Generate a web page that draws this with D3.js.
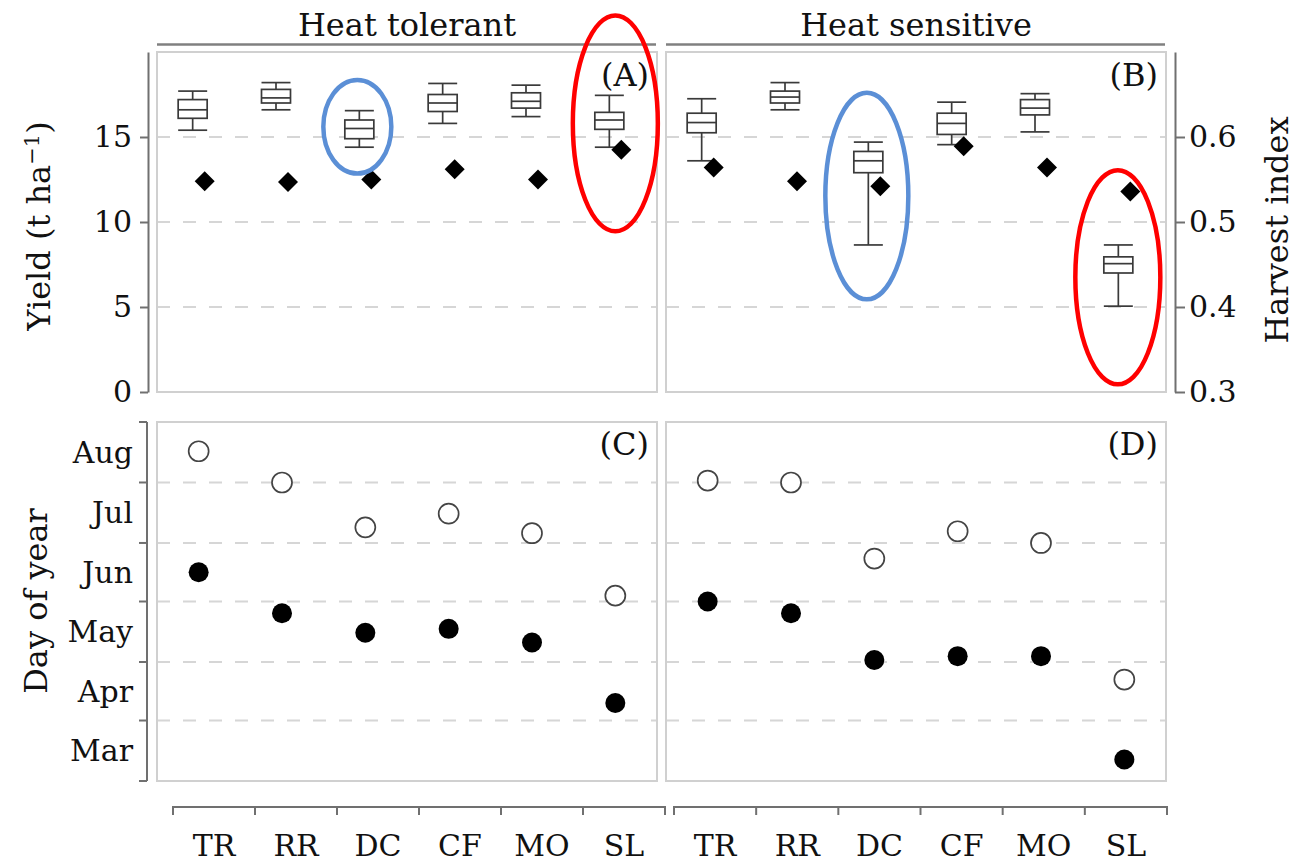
<!DOCTYPE html>
<html>
<head>
<meta charset="utf-8">
<script src="https://cdn.jsdelivr.net/npm/d3@7"></script>
<style>
  html, body { margin: 0; padding: 0; background: #fff; }
  svg text { font-family: "DejaVu Serif", serif; fill: #111; }
</style>
</head>
<body>
<script>
// ---------------- data ----------------
const cultivars = ["TR", "RR", "DC", "CF", "MO", "SL"];
const groupNames = ["Heat tolerant", "Heat sensitive"];
const panelTags = ["(A)", "(B)", "(C)", "(D)"];

// yield box stats [whiskerLow, Q1, median, Q3, whiskerHigh] (t/ha)
const yieldTolerant = [
  [15.4, 16.1, 16.6, 17.2, 17.7],
  [16.6, 17.0, 17.3, 17.8, 18.2],
  [14.4, 14.9, 15.5, 16.0, 16.55],
  [15.8, 16.5, 17.0, 17.5, 18.15],
  [16.2, 16.7, 17.1, 17.6, 18.05],
  [14.4, 15.45, 16.0, 16.45, 17.45]
];
const yieldSensitive = [
  [13.6, 15.25, 15.85, 16.4, 17.25],
  [16.6, 17.0, 17.35, 17.7, 18.2],
  [8.65, 12.9, 13.6, 14.15, 14.7],
  [14.55, 15.15, 15.8, 16.4, 17.05],
  [15.3, 16.3, 16.7, 17.2, 17.55],
  [5.05, 7.0, 7.55, 7.95, 8.65]
];
// harvest index (diamonds)
const hiTolerant = [0.548, 0.547, 0.550, 0.562, 0.550, 0.585];
const hiSensitive = [0.564, 0.548, 0.542, 0.589, 0.564, 0.536];

// day of year: filled = flowering, open = maturity
const flowerTolerant = [167, 146, 136, 138, 131, 100];
const matureTolerant = [229, 213, 190, 197, 187, 155];
const flowerSensitive = [152, 146, 122, 124, 124, 71];
const matureSensitive = [214, 213, 174, 188, 182, 112];

// axes
const yieldTicks = [0, 5, 10, 15];
const yieldGrid = [5, 10, 15];
const hiTicks = [0.3, 0.4, 0.5, 0.6];
const monthNames = ["Mar", "Apr", "May", "Jun", "Jul", "Aug"];
const monthStarts = [60, 91, 121, 152, 182, 213, 244];

// highlight ellipses
const highlightGroup = [0, 0, 1, 1];
const highlightCultivar = ["DC", "SL", "DC", "SL"];
const highlightLow = [12.85, 9.45, 5.45, 0.45];
const highlightHigh = [18.35, 22.15, 17.6, 13.05];
const highlightColour = ["#5b8fd6", "#ff0000", "#5b8fd6", "#ff0000"];

// ---------------- drawing ----------------
const W = 1295, H = 863;
const svg = d3.select("body").append("svg")
  .attr("width", W).attr("height", H)
  .style("display", "block");
svg.append("rect").attr("width", W).attr("height", H).attr("fill", "#fff");

const colX = [[157, 657], [666, 1166]];
const xScales = colX.map(r => d3.scaleBand().domain(cultivars).range(r));
const cx = (g, c) => xScales[g](c) + xScales[g].bandwidth() / 2;

const yYield = d3.scaleLinear().domain([0, 20]).range([392, 52]);
const yHI = d3.scaleLinear().domain([0.3, 0.7]).range([392, 52]);
const yDay = d3.scaleLinear().domain([60, 244]).range([781, 422]);

const gridCol = "#d6d6d6", frameCol = "#d0d0d0", axisCol = "#707070", boxCol = "#3a3a3a";

function panel(g, yTop, yBot, gridYs) {
  const [x0, x1] = colX[g];
  const layer = svg.append("g");
  layer.selectAll("line.grid").data(gridYs).join("line")
    .attr("x1", x0).attr("x2", x1)
    .attr("y1", d => d).attr("y2", d => d)
    .attr("stroke", gridCol).attr("stroke-width", 2)
    .attr("stroke-dasharray", "13,13");
  layer.append("rect")
    .attr("x", x0).attr("y", yTop).attr("width", x1 - x0).attr("height", yBot - yTop)
    .attr("fill", "none").attr("stroke", frameCol).attr("stroke-width", 2);
}
[0, 1].forEach(g => {
  panel(g, 52, 392, yieldGrid.map(v => yYield(v)));
  panel(g, 422, 781, monthStarts.slice(1, -1).map(v => yDay(v)));
});

// strip headers
[0, 1].forEach(g => {
  const [x0, x1] = colX[g];
  svg.append("line").attr("x1", x0).attr("x2", x1 - 1).attr("y1", 44.5).attr("y2", 44.5)
    .attr("stroke", "#808080").attr("stroke-width", 2.5);
  svg.append("text").attr("x", (x0 + x1) / 2).attr("y", 36)
    .attr("text-anchor", "middle").attr("font-size", 32).text(groupNames[g]);
});

// panel tags
[[0, 86], [1, 86], [0, 455], [1, 455]].forEach(([g, y], i) => {
  svg.append("text").attr("x", colX[g][1] - 8).attr("y", y)
    .attr("text-anchor", "end").attr("font-size", 32).text(panelTags[i]);
});

// box plots
const boxW = 29, boxOff = -6, diaOff = 6;
[yieldTolerant, yieldSensitive].forEach((stats, g) => {
  const layer = svg.append("g").attr("stroke", boxCol).attr("stroke-width", 1.7).attr("fill", "none");
  stats.forEach((s, i) => {
    const x = cx(g, cultivars[i]) + boxOff;
    const [lo, q1, md, q3, hi] = s;
    layer.append("line").attr("x1", x).attr("x2", x).attr("y1", yYield(hi)).attr("y2", yYield(q3));
    layer.append("line").attr("x1", x).attr("x2", x).attr("y1", yYield(q1)).attr("y2", yYield(lo));
    layer.append("line").attr("x1", x - boxW / 2).attr("x2", x + boxW / 2).attr("y1", yYield(hi)).attr("y2", yYield(hi));
    layer.append("line").attr("x1", x - boxW / 2).attr("x2", x + boxW / 2).attr("y1", yYield(lo)).attr("y2", yYield(lo));
    layer.append("rect").attr("x", x - boxW / 2).attr("y", yYield(q3))
      .attr("width", boxW).attr("height", yYield(q1) - yYield(q3)).attr("fill", "#fff");
    layer.append("line").attr("x1", x - boxW / 2).attr("x2", x + boxW / 2).attr("y1", yYield(md)).attr("y2", yYield(md));
  });
});
// harvest index diamonds
const diamond = d3.symbol().type(d3.symbolSquare).size(200);
[hiTolerant, hiSensitive].forEach((vals, g) => {
  svg.append("g").selectAll("path").data(vals).join("path")
    .attr("d", diamond)
    .attr("transform", (d, i) => `translate(${cx(g, cultivars[i]) + diaOff},${yHI(d)}) rotate(45)`)
    .attr("fill", "#000");
});

// phenology points
[[flowerTolerant, matureTolerant], [flowerSensitive, matureSensitive]].forEach(([fl, mt], g) => {
  const layer = svg.append("g");
  layer.selectAll("circle.open").data(mt).join("circle")
    .attr("cx", (d, i) => cx(g, cultivars[i])).attr("cy", d => yDay(d)).attr("r", 10)
    .attr("fill", "#fff").attr("stroke", "#444").attr("stroke-width", 1.7);
  layer.selectAll("circle.fill").data(fl).join("circle")
    .attr("cx", (d, i) => cx(g, cultivars[i])).attr("cy", d => yDay(d)).attr("r", 10)
    .attr("fill", "#000");
});

// left yield axis
const axYield = svg.append("g").attr("transform", "translate(148,0)")
  .call(d3.axisLeft(yYield).tickValues(yieldTicks).tickSize(8).tickSizeOuter(0).tickPadding(8));
// right HI axis
const axHI = svg.append("g").attr("transform", "translate(1175,0)")
  .call(d3.axisRight(yHI).tickValues(hiTicks).tickFormat(d3.format(".1f")).tickSize(10).tickSizeOuter(0).tickPadding(4));
[axYield, axHI].forEach(a => {
  a.selectAll("path.domain").attr("stroke", axisCol).attr("stroke-width", 2);
  a.selectAll(".tick line").attr("stroke", axisCol).attr("stroke-width", 2);
  a.selectAll(".tick text").attr("font-size", 30).attr("font-family", "DejaVu Serif").attr("fill", "#111");
});

// month axis
const mAx = svg.append("g").attr("stroke", axisCol).attr("stroke-width", 2);
mAx.append("line").attr("x1", 147).attr("x2", 147).attr("y1", yDay(244)).attr("y2", yDay(60));
mAx.selectAll("line.t").data(monthStarts).join("line")
  .attr("x1", 139).attr("x2", 147).attr("y1", d => yDay(d)).attr("y2", d => yDay(d));
svg.append("g").selectAll("text").data(monthNames).join("text")
  .attr("x", 133).attr("y", (d, i) => (yDay(monthStarts[i]) + yDay(monthStarts[i + 1])) / 2)
  .attr("dy", "0.35em").attr("text-anchor", "end").attr("font-size", 30).text(d => d);

// bottom category axes
const bottomRanges = [[173, 665], [674, 1167]];
bottomRanges.forEach(r => {
  const xs = d3.scaleBand().domain(cultivars).range(r);
  const g = svg.append("g");
  g.append("line").attr("x1", r[0]).attr("x2", r[1]).attr("y1", 807).attr("y2", 807)
    .attr("stroke", axisCol).attr("stroke-width", 2);
  const edges = cultivars.map(c => xs(c)).concat([r[1]]);
  g.selectAll("line.t").data(edges).join("line")
    .attr("x1", d => d).attr("x2", d => d).attr("y1", 806).attr("y2", 815)
    .attr("stroke", axisCol).attr("stroke-width", 2);
  g.selectAll("text").data(cultivars).join("text")
    .attr("x", d => xs(d) + xs.bandwidth() / 2).attr("y", 856)
    .attr("text-anchor", "middle").attr("font-size", 30).text(d => d);
});

// axis titles
const yt = svg.append("text").attr("transform", "translate(50,226) rotate(-90)")
  .attr("text-anchor", "middle").attr("font-size", 32);
yt.append("tspan").text("Yield (t ha");
yt.append("tspan").attr("dy", -11).attr("font-size", 21).text("\u22121");
yt.append("tspan").attr("dy", 11).text(")");
svg.append("text").attr("transform", "translate(47,601) rotate(-90)")
  .attr("text-anchor", "middle").attr("font-size", 32).text("Day of year");
svg.append("text").attr("transform", "translate(1288,230) rotate(-90)")
  .attr("text-anchor", "middle").attr("font-size", 32).text("Harvest index");

// highlight ellipses
const rxPx = [34, 42.5, 41.5, 42.5];
const xShift = [-8, 0, -7.5, -6.5];
highlightGroup.forEach((g, i) => {
  const yc = (yYield(highlightLow[i]) + yYield(highlightHigh[i])) / 2;
  const ry = (yYield(highlightLow[i]) - yYield(highlightHigh[i])) / 2;
  svg.append("ellipse")
    .attr("cx", cx(g, highlightCultivar[i]) + xShift[i]).attr("cy", yc)
    .attr("rx", rxPx[i]).attr("ry", ry)
    .attr("fill", "none").attr("stroke", highlightColour[i]).attr("stroke-width", 4.5);
});
</script>
</body>
</html>
